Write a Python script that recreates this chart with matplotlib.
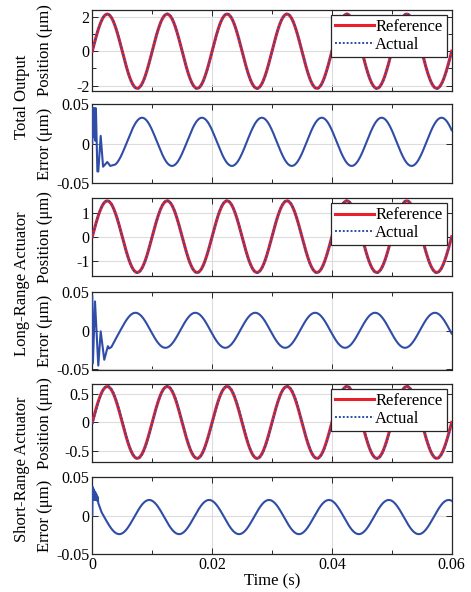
import numpy as np
import matplotlib
matplotlib.use("Agg")
import matplotlib.pyplot as plt
from matplotlib.ticker import MultipleLocator, FixedLocator

plt.rcParams['font.family'] = ['Liberation Serif', 'DejaVu Serif']
plt.rcParams['mathtext.fontset'] = 'stix'

# ---------------- data ----------------
t_end = 0.06
freq_hz = 100.0                      # reference sinusoid frequency
# position amplitudes (um)
amp_total = 2.15
amp_long = 1.50
amp_short = 0.63
# steady-state error sinusoids: amplitude, offset, time of first steady peak (s)
err_total_amp, err_total_off, err_total_peak = 0.0305, 0.0025, 0.0083
err_long_amp, err_long_off, err_long_peak = 0.0225, 0.0004, 0.0072
err_short_amp, err_short_off, err_short_peak = 0.0220, -0.0020, 0.0095
# start-up transient of the errors (time s, error um)
tr_total_t = [0.0, 0.00005, 0.0001, 0.0002, 0.0003, 0.0004, 0.0005, 0.0006,
              0.00085, 0.001, 0.0014, 0.0018, 0.0025, 0.003, 0.0035]
tr_total_v = [0.0, 0.045, 0.012, 0.045, 0.008, 0.045, 0.004, 0.045,
              -0.035, -0.035, 0.010, -0.029, -0.023, -0.028, -0.027]
tr_long_t = [0.0, 0.0001, 0.00045, 0.001, 0.0014, 0.002, 0.0026, 0.0028, 0.0032]
tr_long_v = [0.044, -0.042, 0.0375, -0.045, -0.001, -0.0375, -0.020, -0.023, -0.021]
tr_short_t = [0.0, 0.00005, 0.0001, 0.00015, 0.0002, 0.0003, 0.0004, 0.0005,
              0.0006, 0.0007, 0.0008, 0.0009, 0.001]
tr_short_v = [0.0, 0.037, 0.020, 0.035, 0.022, 0.033, 0.020, 0.030,
              0.020, 0.027, 0.019, 0.024, 0.016]
tr_end = [0.0038, 0.0040, 0.0015]

row_titles = ["Total Output", "Long-Range Actuator", "Short-Range Actuator"]
pos_ylims = [(-2.29, 2.39), (-1.65, 1.61), (-0.69, 0.675)]
pos_ticks = [[-2, 0, 2], [-1, 0, 1], [-0.5, 0, 0.5]]
pos_ticklabels = [["-2", "0", "2"], ["-1", "0", "1"], ["-0.5", "0", "0.5"]]
err_ticks = [-0.05, 0, 0.05]
err_ticklabels = ["-0.05", "0", "0.05"]
x_ticks = [0, 0.02, 0.04, 0.06]
x_ticklabels = ["0", "0.02", "0.04", "0.06"]

# ---------------- build series ----------------
t = np.linspace(0, t_end, 4001)

def err_series(amp, off, peak, tr_t, tr_v, t_after):
    ts = t[t >= t_after]
    ss = off + amp * np.cos(2 * np.pi * freq_hz * (ts - peak))
    return np.concatenate([tr_t, ts]), np.concatenate([tr_v, ss])

errs = [
    err_series(err_total_amp, err_total_off, err_total_peak, tr_total_t, tr_total_v, tr_end[0]),
    err_series(err_long_amp, err_long_off, err_long_peak, tr_long_t, tr_long_v, tr_end[1]),
    err_series(err_short_amp, err_short_off, err_short_peak, tr_short_t, tr_short_v, tr_end[2]),
]
amps = [amp_total, amp_long, amp_short]

# ---------------- figure ----------------
W, H = 471, 592
fig = plt.figure(figsize=(W / 100, H / 100), dpi=100)
left_px, right_px = 92.3, 451.7
tops = [10, 104.3, 198.3, 291.7, 384, 476.7]
bots = [90.7, 183.3, 276, 369.5, 461.7, 554.3]

red = "#E8202A"
blue = "#2F4DA6"
frame = "#262626"
grid_c = "#DCDCDC"

axes = []
for top, bot in zip(tops, bots):
    ax = fig.add_axes([left_px / W, 1 - bot / H, (right_px - left_px) / W, (bot - top) / H])
    axes.append(ax)

for i in range(3):
    axp = axes[2 * i]
    axe = axes[2 * i + 1]
    ref = amps[i] * np.sin(2 * np.pi * freq_hz * t)
    te, ev = errs[i]
    act = amps[i] * np.sin(2 * np.pi * freq_hz * te) - ev
    axp.plot(t, ref, color=red, lw=2.2, label="Reference", zorder=3)
    axp.plot(te, act, color=blue, lw=1.4, ls=(0, (1, 1)), label="Actual", zorder=4)
    axp.set_ylim(*pos_ylims[i])
    axp.yaxis.set_major_locator(FixedLocator(pos_ticks[i]))
    axp.set_yticklabels(pos_ticklabels[i])
    if i == 0:
        axp.yaxis.set_minor_locator(FixedLocator([-1, 1]))
    axp.set_ylabel("Position (\u03bcm)", fontsize=12, va="center")
    leg = axp.legend(loc="upper right", fontsize=12, frameon=True, fancybox=False,
                     edgecolor=frame, framealpha=1, handlelength=2.3, handletextpad=0.1,
                     borderpad=0.25, labelspacing=0.1, borderaxespad=0.3)
    leg.get_frame().set_linewidth(0.9)

    axe.plot(te, ev, color=blue, lw=1.5, zorder=3)
    axe.set_ylim(-0.05, 0.05)
    axe.yaxis.set_major_locator(FixedLocator(err_ticks))
    axe.set_yticklabels(err_ticklabels)
    axe.set_ylabel("Error (\u03bcm)", fontsize=12, va="center")

    ymid = 1 - ((tops[2 * i] + bots[2 * i + 1]) / 2) / H
    fig.text(22 / W, ymid, row_titles[i], rotation=90, ha="center", va="center", fontsize=12)

for k, ax in enumerate(axes):
    ax.set_xlim(0, t_end)
    ax.xaxis.set_major_locator(FixedLocator(x_ticks))
    ax.xaxis.set_minor_locator(MultipleLocator(0.01))
    ax.grid(True, which="major", color=grid_c, lw=0.8, zorder=0)
    ax.set_axisbelow(True)
    ax.tick_params(which="both", direction="in", top=True, right=True,
                   labelsize=11.5, color=frame, width=0.7, pad=2)
    ax.tick_params(which="major", length=4)
    ax.tick_params(which="minor", length=3)
    for s in ax.spines.values():
        s.set_color(frame)
        s.set_linewidth(0.9)
    ax.yaxis.set_label_coords((45 - left_px) / (right_px - left_px), 0.5)
    if k < 5:
        ax.set_xticklabels([])
    else:
        ax.set_xticklabels(x_ticklabels)
        ax.set_xlabel("Time (s)", fontsize=12, labelpad=0)

fig.savefig("out.png", dpi=100)
